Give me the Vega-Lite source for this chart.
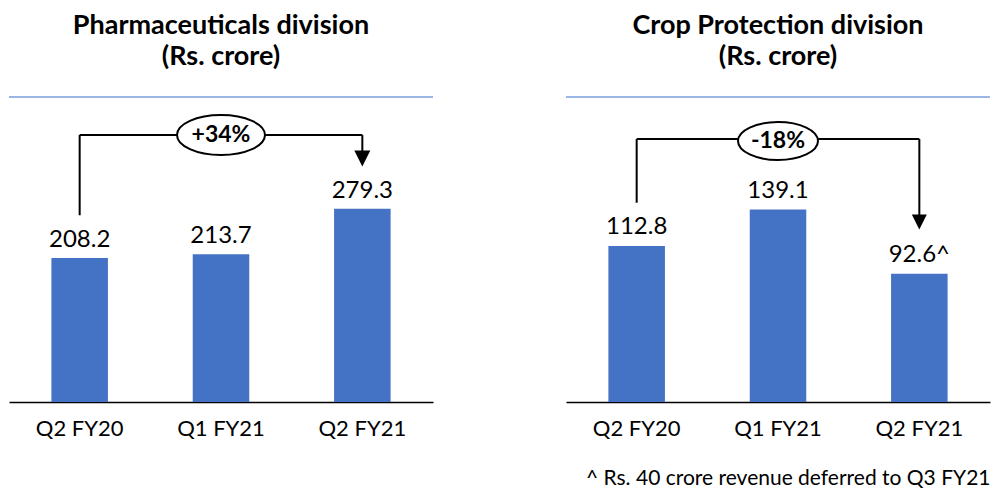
{
  "$schema": "https://vega.github.io/schema/vega-lite/v6.json",
  "padding": {"left": 8, "top": 12, "right": 0, "bottom": 0},
  "spacing": 133,
  "bounds": "flush",
  "background": "white",
  "config": {
    "font": "Lato",
    "view": {"stroke": null},
    "title": {"font": "Lato", "fontSize": 27, "fontWeight": "bold", "lineHeight": 31, "color": "black", "offset": 25, "anchor": "middle", "frame": "group"},
    "axisX": {"labelAngle": 0, "labelFont": "Lato", "labelFontSize": 22, "labelColor": "black", "labelPadding": 16, "ticks": false, "tickSize": 0, "domainColor": "black", "domainWidth": 1.5, "grid": false, "titleFont": "Lato", "titleFontSize": 21, "titleFontWeight": "normal", "titleColor": "black"}
  },
  "datasets": {
    "pharma": [
      {"quarter": "Q2 FY20", "value": 208.2, "label": "208.2"},
      {"quarter": "Q1 FY21", "value": 213.7, "label": "213.7"},
      {"quarter": "Q2 FY21", "value": 279.3, "label": "279.3"}
    ],
    "crop": [
      {"quarter": "Q2 FY20", "value": 112.8, "label": "112.8"},
      {"quarter": "Q1 FY21", "value": 139.1, "label": "139.1"},
      {"quarter": "Q2 FY21", "value": 92.6, "label": "92.6^"}
    ],
    "one": [{"k": 1}]
  },
  "hconcat": [
    {
      "title": {"text": ["Pharmaceuticals division", "(Rs. crore)"]},
      "width": 424,
      "height": 305,
      "layer": [
        {
          "data": {"name": "pharma"},
          "mark": {"type": "bar", "color": "#4472C4"},
          "encoding": {
            "x": {"field": "quarter", "type": "nominal", "scale": {"domain": ["Q2 FY20", "Q1 FY21", "Q2 FY21"], "paddingInner": 0.6, "paddingOuter": 0.3}, "axis": {"title": null}},
            "y": {"field": "value", "type": "quantitative", "scale": {"domain": [0, 441], "nice": false}, "axis": null}
          }
        },
        {
          "data": {"name": "pharma"},
          "mark": {"type": "text", "baseline": "alphabetic", "dy": -11, "fontSize": 24, "color": "black"},
          "encoding": {
            "x": {"field": "quarter", "type": "nominal"},
            "y": {"field": "value", "type": "quantitative"},
            "text": {"field": "label"}
          }
        },
        {
          "data": {"name": "one"},
          "mark": {"type": "rule", "color": "#7A9CDF", "strokeWidth": 1.5},
          "encoding": {"y": {"datum": 441, "type": "quantitative"}}
        },
        {
          "data": {"name": "one"},
          "mark": {"type": "rule", "color": "black", "strokeWidth": 2},
          "encoding": {"x": {"datum": "Q2 FY20", "type": "nominal"}, "y": {"datum": 270, "type": "quantitative"}, "y2": {"datum": 386}}
        },
        {
          "data": {"name": "one"},
          "mark": {"type": "rule", "color": "black", "strokeWidth": 2},
          "encoding": {"x": {"datum": "Q2 FY20", "type": "nominal"}, "x2": {"datum": "Q2 FY21"}, "y": {"datum": 386, "type": "quantitative"}}
        },
        {
          "data": {"name": "one"},
          "mark": {"type": "rule", "color": "black", "strokeWidth": 2},
          "encoding": {"x": {"datum": "Q2 FY21", "type": "nominal"}, "y": {"datum": 386, "type": "quantitative"}, "y2": {"datum": 352}}
        },
        {
          "data": {"name": "one"},
          "mark": {"type": "point", "shape": "M -1 -1 L 1 -1 L 0 1 Z", "size": 256, "filled": true, "color": "black", "opacity": 1},
          "encoding": {"x": {"datum": "Q2 FY21", "type": "nominal"}, "y": {"datum": 352, "type": "quantitative"}}
        },
        {
          "data": {"name": "one"},
          "mark": {"type": "point", "shape": "M -1 0 C -1 -0.2513 -0.5523 -0.455 0 -0.455 C 0.5523 -0.455 1 -0.2513 1 0 C 1 0.2513 0.5523 0.455 0 0.455 C -0.5523 0.455 -1 0.2513 -1 0 Z", "size": 7744, "filled": true, "fill": "white", "stroke": "black", "strokeWidth": 2, "opacity": 1},
          "encoding": {"x": {"datum": "Q1 FY21", "type": "nominal"}, "y": {"datum": 386, "type": "quantitative"}}
        },
        {
          "data": {"name": "one"},
          "mark": {"type": "text", "text": "+34%", "fontSize": 23, "fontWeight": "bold", "baseline": "middle", "color": "black"},
          "encoding": {"x": {"datum": "Q1 FY21", "type": "nominal"}, "y": {"datum": 386, "type": "quantitative"}}
        }
      ]
    },
    {
      "title": {"text": ["Crop Protection division", "(Rs. crore)"]},
      "width": 424,
      "height": 305,
      "layer": [
        {
          "data": {"name": "crop"},
          "mark": {"type": "bar", "color": "#4472C4"},
          "encoding": {
            "x": {"field": "quarter", "type": "nominal", "scale": {"domain": ["Q2 FY20", "Q1 FY21", "Q2 FY21"], "paddingInner": 0.6, "paddingOuter": 0.3}, "axis": {"title": "^ Rs. 40 crore revenue deferred to Q3 FY21", "titleAnchor": "end", "titlePadding": 28}},
            "y": {"field": "value", "type": "quantitative", "scale": {"domain": [0, 220.4], "nice": false}, "axis": null}
          }
        },
        {
          "data": {"name": "crop"},
          "mark": {"type": "text", "baseline": "alphabetic", "dy": -12, "fontSize": 24, "color": "black"},
          "encoding": {
            "x": {"field": "quarter", "type": "nominal"},
            "y": {"field": "value", "type": "quantitative"},
            "text": {"field": "label"}
          }
        },
        {
          "data": {"name": "one"},
          "mark": {"type": "rule", "color": "#7A9CDF", "strokeWidth": 1.5},
          "encoding": {"y": {"datum": 220.4, "type": "quantitative"}}
        },
        {
          "data": {"name": "one"},
          "mark": {"type": "rule", "color": "black", "strokeWidth": 2},
          "encoding": {"x": {"datum": "Q2 FY20", "type": "nominal"}, "y": {"datum": 144, "type": "quantitative"}, "y2": {"datum": 190}}
        },
        {
          "data": {"name": "one"},
          "mark": {"type": "rule", "color": "black", "strokeWidth": 2},
          "encoding": {"x": {"datum": "Q2 FY20", "type": "nominal"}, "x2": {"datum": "Q2 FY21"}, "y": {"datum": 190, "type": "quantitative"}}
        },
        {
          "data": {"name": "one"},
          "mark": {"type": "rule", "color": "black", "strokeWidth": 2},
          "encoding": {"x": {"datum": "Q2 FY21", "type": "nominal"}, "y": {"datum": 190, "type": "quantitative"}, "y2": {"datum": 130}}
        },
        {
          "data": {"name": "one"},
          "mark": {"type": "point", "shape": "M -1 -1 L 1 -1 L 0 1 Z", "size": 225, "filled": true, "color": "black", "opacity": 1},
          "encoding": {"x": {"datum": "Q2 FY21", "type": "nominal"}, "y": {"datum": 130, "type": "quantitative"}}
        },
        {
          "data": {"name": "one"},
          "mark": {"type": "point", "shape": "M -1 0 C -1 -0.2623 -0.5523 -0.475 0 -0.475 C 0.5523 -0.475 1 -0.2623 1 0 C 1 0.2623 0.5523 0.475 0 0.475 C -0.5523 0.475 -1 0.2623 -1 0 Z", "size": 6400, "filled": true, "fill": "white", "stroke": "black", "strokeWidth": 2, "opacity": 1},
          "encoding": {"x": {"datum": "Q1 FY21", "type": "nominal"}, "y": {"datum": 188.6, "type": "quantitative"}}
        },
        {
          "data": {"name": "one"},
          "mark": {"type": "text", "text": "-18%", "fontSize": 23, "fontWeight": "bold", "baseline": "middle", "color": "black"},
          "encoding": {"x": {"datum": "Q1 FY21", "type": "nominal"}, "y": {"datum": 188.6, "type": "quantitative"}}
        }
      ]
    }
  ]
}
